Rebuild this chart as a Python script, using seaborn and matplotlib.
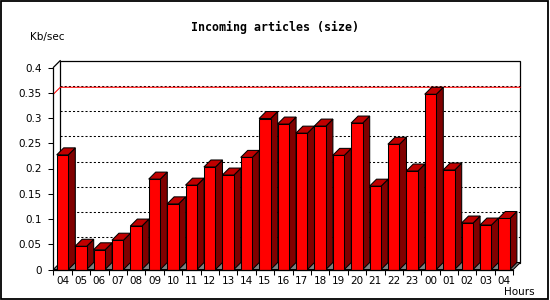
import numpy as np
import pandas as pd
import matplotlib
matplotlib.use("Agg")
import matplotlib.pyplot as plt
import seaborn as sns
from matplotlib.patches import Polygon, Rectangle

# ---- data -------------------------------------------------------------
hours = ["04", "05", "06", "07", "08", "09", "10", "11", "12", "13", "14",
         "15", "16", "17", "18", "19", "20", "21", "22", "23", "00", "01",
         "02", "03", "04"]
rates = [0.227, 0.046, 0.039, 0.058, 0.086, 0.179, 0.130, 0.167, 0.203,
         0.187, 0.222, 0.299, 0.288, 0.270, 0.284, 0.226, 0.290, 0.165,
         0.248, 0.195, 0.347, 0.197, 0.092, 0.088, 0.101]
y_ticks = [0, 0.05, 0.1, 0.15, 0.2, 0.25, 0.3, 0.35, 0.4]
title = "Incoming articles (size)"
y_label = "Kb/sec"
x_label = "Hours"

# ---- style ------------------------------------------------------------
sns.set_theme(style="white")
plt.rcParams['font.family'] = ['DejaVu Sans']

W, H = 550, 300
fig = plt.figure(figsize=(W / 100, H / 100), dpi=100)
ax_l, ax_r, ax_b, ax_t = 53.3, 513.3, 269.5, 67.5   # pixel frame of front axes
ax = fig.add_axes([ax_l / W, (H - ax_b) / H, (ax_r - ax_l) / W, (ax_b - ax_t) / H])

n = len(rates)
df = pd.DataFrame({"slot": np.arange(n), "rate": rates})
sns.barplot(data=df, x="slot", y="rate", color="#ff0000", saturation=1,
            width=0.63, edgecolor="black", linewidth=0.75, ax=ax)

ymax = y_ticks[-1]
ax.set_xlim(-0.5, n - 0.5)
ax.set_ylim(0, ymax)

# depth offset (7 px right, 7 px up) converted to data units
dx = 7 / ((ax_r - ax_l) / n)
dy = 7 / ((ax_b - ax_t) / ymax)

x0, x1 = -0.5, n - 0.5
# back wall
ax.add_patch(Rectangle((x0 + dx, dy), n, ymax, fc="white", ec="black",
                       lw=0.9, zorder=0.5, clip_on=False))
# left wall top diagonal and floor right diagonal
ax.plot([x0, x0 + dx], [ymax, ymax + dy], color="black", lw=0.9, zorder=0.6, clip_on=False)
# dotted grid on back wall
for v in y_ticks[1:-1]:
    ax.plot([x0 + dx, x1 + dx], [v + dy, v + dy], color="black", lw=0.75,
            ls=(0, (2, 2)), zorder=1, clip_on=False)
# red max line
m = max(rates)
ax.plot([x0, x0 + dx, x1 + dx], [m, m + dy, m + dy], color="#ff0000", lw=0.75,
        zorder=1.2, clip_on=False)
# floor
ax.add_patch(Polygon([(x0, 0), (x1, 0), (x1 + dx, dy), (x0 + dx, dy)],
                     closed=True, fc="#808080", ec="black", lw=0.75,
                     zorder=1.5, clip_on=False))

# 3D faces of bars
for p in list(ax.patches):
    if not isinstance(p, Rectangle) or p.get_facecolor()[:3] != (1.0, 0.0, 0.0):
        continue
    x, w, h = p.get_x(), p.get_width(), p.get_height()
    top = Polygon([(x, h), (x + w, h), (x + w + dx, h + dy), (x + dx, h + dy)],
                  closed=True, fc="#c00000", ec="black", lw=0.75, zorder=2, clip_on=False)
    side = Polygon([(x + w, 0), (x + w + dx, dy), (x + w + dx, h + dy), (x + w, h)],
                   closed=True, fc="#800000", ec="black", lw=0.75, zorder=2, clip_on=False)
    ax.add_patch(side)
    ax.add_patch(top)
    p.set_zorder(3)
    p.set_clip_on(False)

# axes / ticks
for s in ["top", "right"]:
    ax.spines[s].set_visible(False)
for s in ["left", "bottom"]:
    ax.spines[s].set_color("black")
    ax.spines[s].set_linewidth(0.9)
    ax.spines[s].set_zorder(4)

ax.set_xticks(np.arange(n + 1) - 0.5)
ax.set_xticklabels([])
ax.set_xticks(np.arange(n), labels=hours, minor=True)
ax.tick_params(axis="x", which="major", bottom=True, length=3.5, width=0.75,
               color="black", direction="out")
ax.tick_params(axis="x", which="minor", bottom=True, length=0, pad=5,
               labelsize=7.5, labelcolor="black")
ax.set_yticks(y_ticks, labels=[f"{v:g}" for v in y_ticks])
ax.tick_params(axis="y", left=True, length=3.5, width=0.75, color="black",
               direction="out", pad=5, labelsize=7.5, labelcolor="black")
ax.set_xlabel("")
ax.set_ylabel("")

# texts
fig.text(275 / W, 1 - 27 / H, title, ha="center", va="center", fontsize=8.4,
         family="DejaVu Sans Mono", weight="bold", color="black")
fig.text(47 / W, 1 - 37 / H, y_label, ha="center", va="center", fontsize=7.5, color="black")
fig.text(519 / W, 1 - 292 / H, x_label, ha="center", va="center", fontsize=7.5, color="black")

# outer frame
fig.add_artist(Rectangle((0.8 / W, 1.5 / H), 547.5 / W, 297.5 / H, fill=False,
                         ec="black", lw=1.3, transform=fig.transFigure))

fig.savefig("out.png", dpi=100)
